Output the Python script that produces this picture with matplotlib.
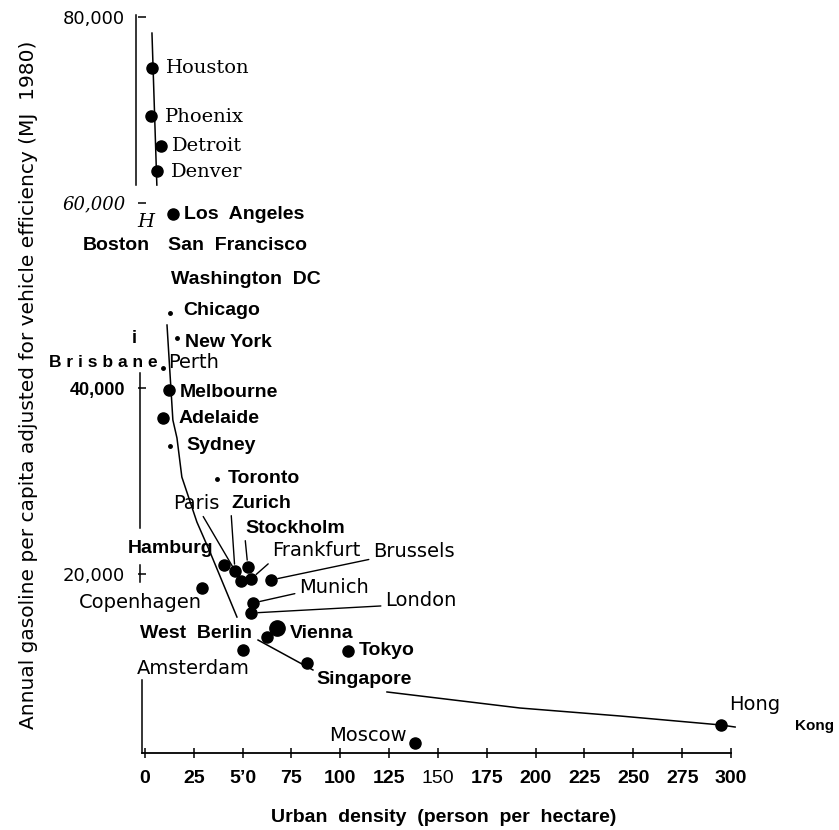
import numpy as np
import matplotlib
matplotlib.use("Agg")
from matplotlib import pyplot as plt

# cities drawn with a full dot: density (persons/ha), gasoline (MJ per capita)
cities = ["Houston", "Phoenix", "Detroit", "Denver", "Los  Angeles",
          "Melbourne", "Adelaide", "Hamburg", "Zurich", "Paris", "Stockholm",
          "Frankfurt", "Brussels", "Copenhagen", "Munich", "London", "Vienna",
          "West  Berlin", "Amsterdam", "Tokyo", "Singapore", "Moscow", "Hong"]
density = [3.6, 3.1, 8.2, 6.1, 14.3,
           12.3, 9.2, 40.4, 46.1, 49.2, 52.7,
           54.3, 64.5, 29.2, 55.3, 54.3, 67.6,
           62.5, 50.2, 103.9, 82.9, 138.2, 294.9]
gasoline = [74490, 69320, 66085, 63390, 58750,
            39780, 36760, 20920, 20270, 19190, 20700,
            19410, 19300, 18440, 16820, 15740, 14125,
            13155, 11750, 11650, 10350, 1730, 3670]

# cities that only left a faint mark in the print
faint_cities = ["Chicago", "New York", "Perth", "Sydney", "Toronto"]
faint_density = [12.8, 16.4, 9.2, 12.8, 36.9]
faint_gasoline = [48080, 45390, 42150, 33750, 30190]

# cities with a label but no mark
bare_cities = ["Boston", "San  Francisco", "Washington  DC", "B r i s b a n e"]
bare_density = [12.0, 16.0, 13.7, 9.8]
bare_gasoline = [55000, 55000, 52000, 42000]

# hand drawn trend line (nan = break in the print)
curve_x = [3.6, 6.1, np.nan, 11.3, 14.3, 16.4, 18.9, 26.6, 33.3, 47.1, np.nan,
           57.9, 86.0, np.nan, 123.9, 192.0, 243.2, 294.9, 302.1]
curve_y = [78266, 61880, np.nan, 46790, 36550, 34610, 30400, 25550, 22320, 15310, np.nan,
           12830, 9600, np.nan, 7230, 5500, 4640, 3670, 3450]

xticks = [0, 25, 50, 75, 100, 125, 150, 175, 200, 225, 250, 275, 300]
xticklabels = ["0", "25", "5\u20190", "75", "100", "125", "150", "175", "200",
               "225", "250", "275", "300"]
yticks = [20000, 40000, 60000, 80000]
yticklabels = ["20,000", "40,000", "60,000", "80,000"]

serif = {'family': 'DejaVu Serif', 'size': 14}
bold = {'family': 'Liberation Sans', 'weight': 'bold', 'size': 14}
light = {'family': 'DejaVu Sans', 'size': 14}

# label placement: font, offset in pixels, alignment, leader line anchor
labels = {
    "Houston": (serif, 14, 0, 'left', None),
    "Phoenix": (serif, 14, -1, 'left', None),
    "Detroit": (serif, 11, 0, 'left', None),
    "Denver": (serif, 14, -1, 'left', None),
    "Los  Angeles": (bold, 11, 0, 'left', None),
    "Melbourne": (bold, 11, -2, 'left', None),
    "Adelaide": (bold, 16, 0, 'left', None),
    "Hamburg": (bold, -10, 16, 'right', None),
    "Zurich": (bold, -4, 68, 'left', (0.0, 0.0)),
    "Paris": (light, -68, 78, 'left', (0.6, 0.0)),
    "Stockholm": (bold, -3, 39, 'left', (0.0, 0.0)),
    "Frankfurt": (light, 21, 28, 'left', (0.0, 0.0)),
    "Brussels": (light, 102, 29, 'left', (0.0, 0.1)),
    "Copenhagen": (light, 0, -15, 'right', None),
    "Munich": (light, 46, 16, 'left', (0.0, 0.2)),
    "London": (light, 134, 13, 'left', (0.0, 0.2)),
    "Vienna": (bold, 13, -5, 'left', None),
    "West  Berlin": (bold, -15, 4, 'right', None),
    "Amsterdam": (light, 7, -18, 'right', None),
    "Tokyo": (bold, 11, 0, 'left', None),
    "Singapore": (bold, 9, -16, 'left', None),
    "Moscow": (light, -8, 7, 'right', None),
    "Hong": (light, 8, 20, 'left', None),
    "Chicago": (bold, 13, 3, 'left', None),
    "New York": (bold, 8, -4, 'left', None),
    "Perth": (light, 5, 6, 'left', None),
    "Sydney": (bold, 16, 0, 'left', None),
    "Toronto": (bold, 11, 1, 'left', None),
    "Boston": (bold, -18, 3, 'right', None),
    "San  Francisco": (bold, -8, 3, 'left', None),
    "Washington  DC": (bold, -1, -3, 'left', None),
    "B r i s b a n e": ({'family': 'Liberation Sans', 'weight': 'bold', 'size': 12.5}, -6, 7, 'right', None),
}

fig = plt.figure(figsize=(8.39, 8.30), dpi=100)
ax = fig.add_axes([142 / 839, 1 - 753 / 830, 589 / 839, 736 / 830])
ax.set_xlim(-1.5, 300)
ax.set_ylim(650, 80000)

ax.plot(curve_x, curve_y, color='black', lw=1.1, clip_on=False)
ax.plot(density, gasoline, 'o', color='black', ms=8, clip_on=False)
ax.plot(faint_density, faint_gasoline, 'o', color='black', ms=2.5, clip_on=False)
ax.plot([density[cities.index("Vienna")]], [gasoline[cities.index("Vienna")]],
        'o', color='black', ms=11)

def put_label(name, x, y):
    font, dx, dy, ha, rel = labels[name]
    kw = dict(font)
    if rel is not None:
        kw['arrowprops'] = dict(arrowstyle='-', color='black', lw=1.0,
                                relpos=rel, shrinkA=1, shrinkB=5)
    ax.annotate(name, (x, y), xytext=(dx, dy), textcoords='offset pixels',
                ha=ha, va='center', annotation_clip=False, **kw)

for n, x, y in zip(cities, density, gasoline):
    put_label(n, x, y)
for n, x, y in zip(faint_cities, faint_density, faint_gasoline):
    put_label(n, x, y)
for n, x, y in zip(bare_cities, bare_density, bare_gasoline):
    put_label(n, x, y)

# second line of the "Hong Kong" label, pushed to the page edge
hk = cities.index("Hong")
ax.annotate("Kong", (density[hk], gasoline[hk]), xytext=(74, -1),
            textcoords='offset pixels', ha='left', va='center',
            family='Liberation Sans', weight='bold', size=11,
            annotation_clip=False)

# stray marks of the print
fig.text(146 / 839, 1 - 222 / 830, "H", family='DejaVu Serif', style='italic',
         size=14, ha='center', va='center')
fig.text(134 / 839, 1 - 338 / 830, "i", family='Liberation Sans', weight='bold',
         size=13, ha='center', va='center')

# axes
for s in ['top', 'right', 'left']:
    ax.spines[s].set_visible(False)
ax.spines['bottom'].set_linewidth(1.3)
for x0, y0, y1 in [(-0.010, 0.772, 1.003), (-0.0034, 0.306, 0.516),
                   (-0.0034, 0.232, 0.255), (0.0, 0.0, 0.099)]:
    ax.plot([x0, x0], [y0, y1], color='black', lw=1.1, transform=ax.transAxes,
            clip_on=False)

ax.set_xticks(xticks)
ax.set_xticklabels(xticklabels)
ax.tick_params(axis='x', direction='inout', length=7, width=1.1, pad=9)
for lab in ax.get_xticklabels():
    lab.set_fontfamily('Liberation Sans')
    lab.set_fontsize(14)
    lab.set_fontweight('normal' if lab.get_text() == "150" else 'bold')

ax.set_yticks(yticks)
ax.set_yticklabels(yticklabels)
ax.tick_params(axis='y', direction='inout', length=6, width=1.1, pad=9)
ystyles = [('DejaVu Sans', 'normal', 'normal', 13),
           ('Liberation Sans', 'bold', 'normal', 13),
           ('DejaVu Serif', 'normal', 'italic', 13),
           ('DejaVu Sans', 'normal', 'normal', 13)]
for lab, (fam, wt, st, sz) in zip(ax.get_yticklabels(), ystyles):
    lab.set_fontfamily(fam)
    lab.set_fontweight(wt)
    lab.set_fontstyle(st)
    lab.set_fontsize(sz)

ax.text(0.513, -0.088, "Urban  density  (person  per  hectare)", transform=ax.transAxes,
        ha='center', va='center', family='Liberation Sans', weight='bold', size=14)
ax.text(-0.1935, 0.5, "Annual gasoline per capita adjusted for vehicle efficiency (MJ  1980)",
        transform=ax.transAxes, rotation=90, ha='center', va='center',
        family='DejaVu Sans', size=14.5)

plt.savefig("out.png", dpi=100)
